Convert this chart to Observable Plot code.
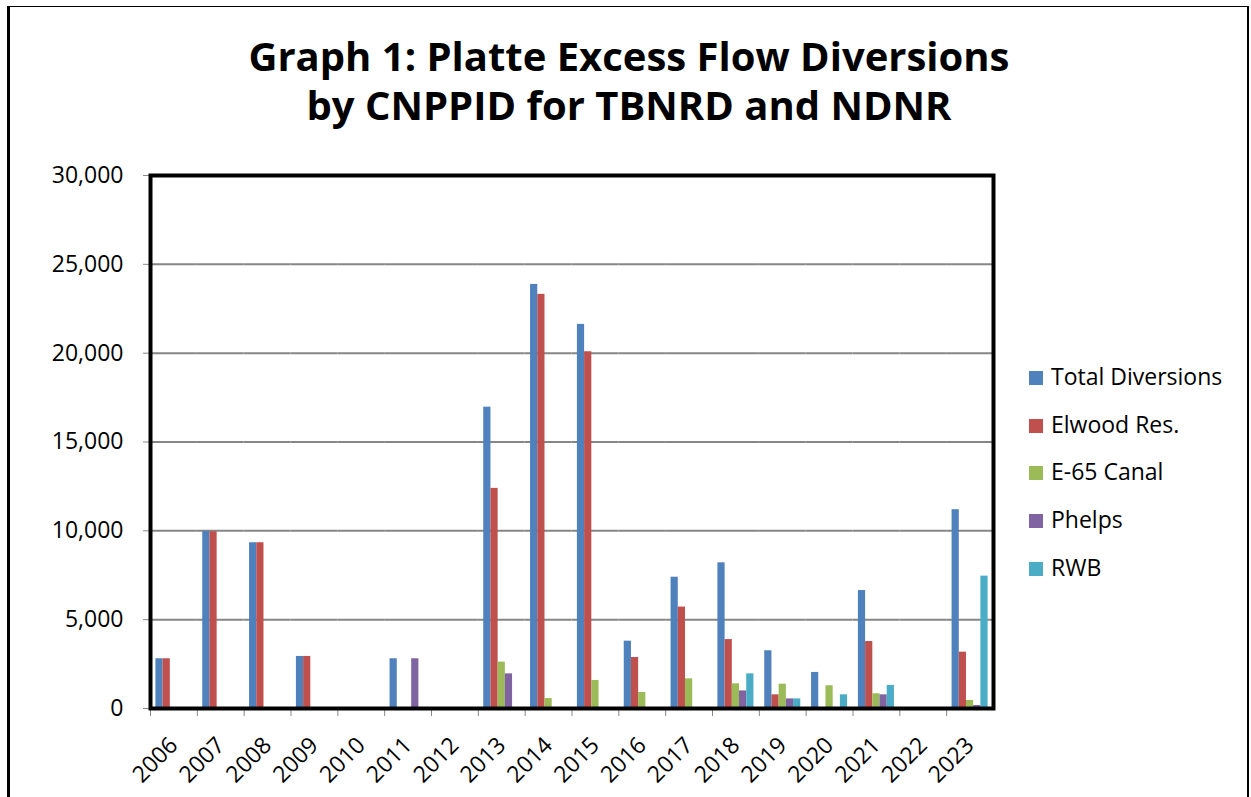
<!DOCTYPE html>
<html>
<head>
<meta charset="utf-8">
<script src="https://cdn.jsdelivr.net/npm/d3@7"></script>
<script src="https://cdn.jsdelivr.net/npm/@observablehq/plot@0.6"></script>
<style>
  html, body { margin: 0; padding: 0; background: #fff; }
  #page { position: relative; width: 1251px; height: 797px; overflow: hidden; font-family: "Open Sans", sans-serif; }
  #border { position: absolute; left: 7px; top: 6px; width: 1237px; height: 900px;
            border-left: 3px solid #000; border-top: 1px solid #000; border-right: 2px solid #000; }
  #title { position: absolute; left: 0; top: 32px; width: 1258px; text-align: center;
           font-family: "Open Sans", sans-serif; font-weight: 700; font-size: 40px; line-height: 48.5px; color: #000; }
  #chart { position: absolute; left: 0; top: 0; }
  .legend-row { position: absolute; left: 1029px; font-family: "Open Sans", sans-serif; font-size: 23px;
                line-height: 23px; color: #000; white-space: nowrap; }
  .swatch { display: inline-block; width: 14px; height: 14px; margin-right: 8px; vertical-align: baseline; }
</style>
</head>
<body>
<div id="page">
  <div id="border"></div>
  <div id="chart"></div>
  <div id="title">Graph 1: Platte Excess Flow Diversions<br>by CNPPID for TBNRD and NDNR</div>
  <div id="legend"></div>
</div>
<script>
// ---- data ----
const years = ["2006","2007","2008","2009","2010","2011","2012","2013","2014","2015","2016","2017","2018","2019","2020","2021","2022","2023"];
const seriesNames = ["Total Diversions", "Elwood Res.", "E-65 Canal", "Phelps", "RWB"];
const seriesColors = ["#4F81BD", "#C0504D", "#9BBB59", "#8064A2", "#4BACC6"];
const totalDiversions = [2800, 9970, 9330, 2930, 0, 2800, 0, 16960, 23870, 21620, 3790, 7390, 8200, 3250, 2030, 6640, 0, 11190];
const elwoodRes       = [2800, 9950, 9330, 2930, 0, 0, 0, 12390, 23310, 20080, 2870, 5710, 3880, 770, 0, 3770, 0, 3170];
const e65Canal        = [0, 0, 0, 0, 0, 0, 0, 2610, 560, 1580, 900, 1670, 1390, 1370, 1280, 830, 0, 450];
const phelps          = [0, 0, 0, 0, 0, 2800, 0, 1950, 0, 0, 0, 0, 990, 540, 0, 770, 0, 170];
const rwb             = [0, 0, 0, 0, 0, 0, 0, 0, 0, 0, 0, 0, 1950, 540, 770, 1300, 0, 7450];
const yTicks = [0, 5000, 10000, 15000, 20000, 25000, 30000];

const seriesValues = [totalDiversions, elwoodRes, e65Canal, phelps, rwb];
const rows = years.flatMap((yr, i) =>
  seriesNames.map((s, j) => ({year: yr, series: s, value: seriesValues[j][i]})));

// ---- layout ----
const W = 1010, H = 797, mL = 150, mR = 17, mT = 175, mB = 89;
const step = (W - mL - mR) / years.length;

const chart = Plot.plot({
  width: W, height: H,
  marginLeft: mL, marginRight: mR, marginTop: mT, marginBottom: mB,
  style: {fontFamily: "'Open Sans', sans-serif", fontSize: "23px", color: "black", background: "transparent", overflow: "visible"},
  fx: {domain: years, padding: 0, round: false, label: null},
  x: {domain: seriesNames, paddingInner: 0, paddingOuter: 0.75, round: false, axis: null},
  y: {domain: [0, 30000], label: null},
  color: {domain: seriesNames, range: seriesColors},
  marks: [
    Plot.gridY(yTicks, {stroke: "#868686", strokeOpacity: 1, strokeWidth: 2}),
    Plot.barY(rows, {fx: "year", x: "series", y: "value", fill: "series", inset: 0}),
    Plot.axisY(yTicks, {anchor: "left", tickSize: 7, tickPadding: 20, tickFormat: d3.format(","),
                        stroke: "#888", fill: "black", fontSize: 23, label: null}),
    Plot.axisFx({anchor: "bottom", tickSize: 0, tickRotate: -45, tickPadding: 33,
                 fontSize: 23, fill: "black", label: null}),
    Plot.axisFx({anchor: "bottom", tickSize: 8, tickFormat: () => "", dx: -step / 2,
                 stroke: "#888", label: null}),
    Plot.frame({facet: "super", stroke: "black", strokeWidth: 4})
  ]
});
document.getElementById("chart").appendChild(chart);

// ---- legend ----
const legend = document.getElementById("legend");
seriesNames.forEach((s, i) => {
  const row = document.createElement("div");
  row.className = "legend-row";
  row.style.top = (364.6 + i * 47.9) + "px";
  const sw = document.createElement("span");
  sw.className = "swatch";
  sw.style.background = seriesColors[i];
  row.appendChild(sw);
  row.appendChild(document.createTextNode(s));
  legend.appendChild(row);
});
</script>
</body>
</html>
